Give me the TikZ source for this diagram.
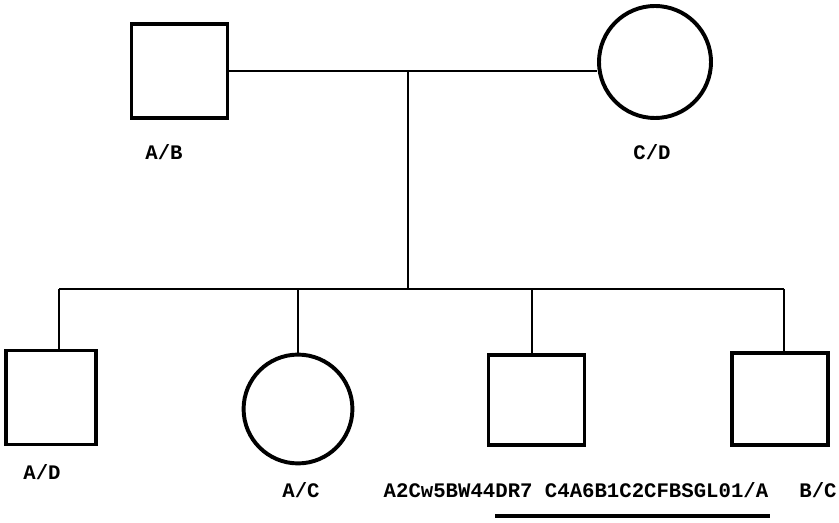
\documentclass[tikz,border=0pt]{standalone}
\usepackage{fontspec}
\setmonofont{Liberation Mono}
\usetikzlibrary{positioning}

\begin{document}
\begin{tikzpicture}[x=0.025cm,y=-0.025cm,line width=2pt,
  male/.style={draw,rectangle,line width=2.6pt,minimum width=2.4cm,minimum height=2.35cm,inner sep=0pt},
  female/.style={draw,circle,line width=2.8pt,minimum size=2.75cm,inner sep=0pt},
  lbl/.style={font=\ttfamily\bfseries\fontsize{14.7}{17}\selectfont,inner sep=0pt}]
  \useasboundingbox (0,0) rectangle (839,523);
  \node[male] (father) at (179.5,71) {};
  \node[female,minimum size=2.8cm] (mother) at (655,62) {};
  \coordinate (mid) at (408,71);
  \coordinate (sib) at (408,289);
  \coordinate (s1) at (59,289);
  \coordinate (s2) at (298,289);
  \coordinate (s3) at (532,289);
  \coordinate (s4) at (784,289);
  \node[male,minimum width=2.25cm] (son1) at (51,397.5) {};
  \node[female,minimum size=2.72cm] (daughter) at (298,409) {};
  \node[male,minimum height=2.25cm] (son2) at (536.5,400) {};
  \node[male,minimum height=2.3cm] (son3) at (780,399) {};
  \draw (father.east) -- (father.east -| mother.west);
  \draw (mid) -- (sib);
  \draw (s1) -- (s4);
  \foreach \s/\c in {s1/son1,s2/daughter,s3/son2,s4/son3}
    \draw (\s) -- (\s |- \c.north);
  \node[lbl] (lfather) at (164,152) {A/B};
  \node[lbl] (lmother) at (652,152) {C/D};
  \node[lbl] (lson1) at (42,472) {A/D};
  \node[lbl] (ldaughter) at (301,490) {A/C};
  \node[lbl] (lson2) at (576,490) {A2Cw5BW44DR7 C4A6B1C2CFBSGL01/A};
  \node[lbl] (lson3) at (818,490) {B/C};
  \coordinate (ul1) at (495,516);
  \coordinate (ul2) at (770,516);
  \draw[line width=2.4pt] (ul1) -- (ul2);
\end{tikzpicture}
\end{document}
